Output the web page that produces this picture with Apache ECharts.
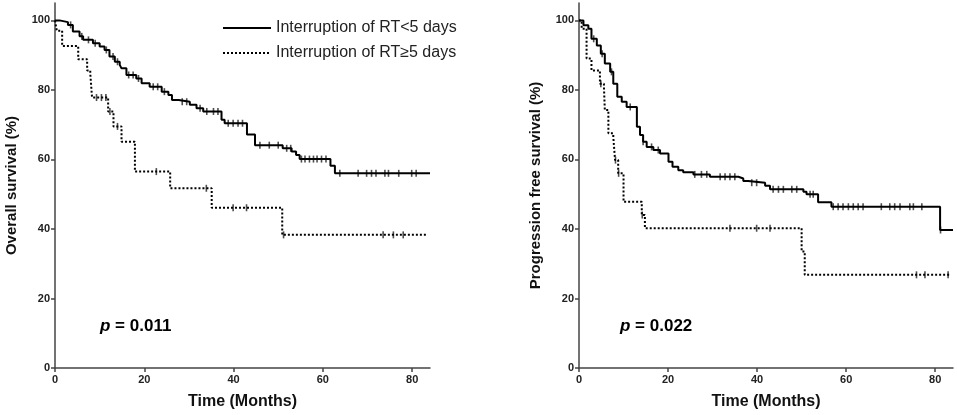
<!DOCTYPE html>
<html>
<head>
<meta charset="utf-8">
<script src="https://cdn.jsdelivr.net/npm/echarts@6/dist/echarts.min.js"></script>
<style>
  html, body { margin: 0; padding: 0; background: #fff; }
  #chart { width: 957px; height: 415px; }
</style>
</head>
<body>
<div id="chart"></div>
<script>
// 生存曲线数据 (时间: 月, 生存率: %)
var groupNames = ['Interruption of RT<5 days', 'Interruption of RT\u22655 days'];
var xTicks = [0, 20, 40, 60, 80];
var yTicks = [0, 20, 40, 60, 80, 100];

// Overall survival, interruption < 5 days
var osT1 = [0, 1, 2.9, 4.0, 5.5, 6.3, 8.5, 10, 11.1, 12.2, 13.4, 14.5, 14.9, 16, 18.2, 19.4, 21.2, 23.9, 25.4, 26.2, 27.7, 30.2, 31.7, 33.2, 37.3, 38, 43, 44.8, 51, 53, 54, 54.8, 61.7, 62.7, 84];
var osS1 = [100, 99.5, 98.7, 96.8, 95.4, 94.4, 93.4, 92.5, 91.5, 89.6, 88.1, 87.2, 86.2, 84.3, 83.3, 81.9, 80.9, 79.5, 78.5, 77.1, 76.6, 75.7, 74.7, 73.8, 71.4, 70.4, 67.2, 64.1, 63.2, 62.3, 61.3, 60.1, 58.2, 56, 56];
var osC1 = [3.5, 6, 7.5, 9, 11.5, 13, 14, 16.5, 17.5, 18.7, 22, 23, 24.5, 28.5, 29.5, 32.5, 34, 35.5, 36.5, 38.8, 39.9, 41, 42, 45.9, 48, 50, 51.9, 52.8, 55.2, 56, 57, 57.9, 58.7, 59.7, 60.7, 63.8, 67.9, 69.8, 70.9, 71.9, 73.9, 74.7, 77, 79.9, 80.9];

// Overall survival, interruption >= 5 days
var osT2 = [0, 0.4, 1.6, 5.2, 7.2, 7.9, 8.3, 11.9, 13.1, 14.9, 17.9, 25.8, 35.1, 50.9, 83.3];
var osS2 = [100, 97, 92.6, 88.8, 85.6, 84.7, 77.8, 73.8, 69.5, 65.1, 56.5, 51.7, 46.1, 38.3, 38.3];
var osC2 = [9.3, 10.4, 11.4, 12.3, 14, 22.7, 33.9, 39.9, 42.9, 51.2, 73.5, 75.8, 78];

// Progression free survival, interruption < 5 days
var pfsT1 = [0, 1, 2.1, 2.8, 4, 4.9, 5.8, 7, 7.7, 8.6, 9.6, 10.7, 13, 13.7, 14.4, 15.2, 16.7, 18.2, 20.1, 21, 22.3, 23.4, 25.7, 29.4, 35.8, 36.9, 38, 41.8, 42.9, 50.4, 51.1, 53.7, 56.7, 81.1, 84];
var pfsS1 = [100, 98.6, 97.6, 94.7, 92.8, 90.4, 87.6, 85.2, 81.8, 78, 76.6, 75.1, 69.4, 67, 65.1, 63.6, 62.7, 61.7, 59.3, 57.9, 56.9, 56.3, 55.7, 55, 54.5, 53.8, 53.3, 52.4, 51.4, 50.7, 50, 47.7, 46.4, 39.7, 39.7];
var pfsC1 = [3.3, 5.2, 7.3, 11.5, 14.4, 16.3, 17.8, 26, 27.5, 28.7, 31.7, 32.8, 33.9, 35, 38.8, 39.9, 43.6, 44.8, 45.9, 47.8, 48.9, 51.9, 52.6, 57.1, 58.2, 59.3, 60.5, 61.6, 62.7, 63.8, 67.9, 69.8, 70.9, 72.1, 74.3, 75.1, 77, 81.2];

// Progression free survival, interruption >= 5 days
var pfsT2 = [0, 0.6, 1.7, 2.8, 4.7, 5.6, 5.8, 6.6, 7.7, 8.1, 8.8, 10, 14.1, 14.8, 50, 50.7, 83.3];
var pfsS2 = [100, 97.6, 89, 85.6, 81.8, 80.9, 74.2, 67.5, 66.5, 59.8, 56, 47.8, 44, 40.2, 33.5, 26.8, 26.8];
var pfsC2 = [4.9, 8.2, 8.9, 14.2, 33.9, 39.9, 42.9, 75.8, 77.7, 82.9];

var pValues = ['0.011', '0.022'];
var yNames = ['Overall survival (%)', 'Progression free survival (%)'];
var xName = 'Time (Months)';

function pairs(t, s) {
    return t.map(function (v, i) { return [v, s[i]]; });
}
// 删失点取对应时刻的生存率
function censor(t, s, c) {
    return c.map(function (x) {
        var y = s[0];
        for (var i = 0; i < t.length; i++) { if (t[i] <= x) y = s[i]; }
        return [x, y];
    });
}

var FONT = 'Liberation Sans, Arial, sans-serif';
var axisColor = '#444';

function makeX(idx) {
    return {
        type: 'value', gridIndex: idx, min: 0, max: 84,
        name: xName, nameLocation: 'middle', nameGap: 26,
        nameTextStyle: { fontFamily: FONT, fontSize: 16, fontWeight: 'bold', color: '#111' },
        axisLine: { show: true, onZero: false, lineStyle: { color: axisColor, width: 1.5 } },
        axisTick: { show: true, length: 4, customValues: xTicks, lineStyle: { color: axisColor, width: 1.5 } },
        axisLabel: { customValues: xTicks, margin: 6, fontFamily: FONT, fontSize: 11, fontWeight: 'bold', color: '#222' },
        splitLine: { show: false }
    };
}
function makeY(idx) {
    return {
        type: 'value', gridIndex: idx, min: 0, max: 105,
        name: yNames[idx], nameLocation: 'middle', nameGap: 36,
        nameTextStyle: { fontFamily: FONT, fontSize: 15, fontWeight: 'bold', color: '#111' },
        axisLine: { show: true, lineStyle: { color: axisColor, width: 1.5 } },
        axisTick: { show: true, length: 4, customValues: yTicks, lineStyle: { color: axisColor, width: 1.5 } },
        axisLabel: { customValues: yTicks, margin: 5, fontFamily: FONT, fontSize: 11, fontWeight: 'bold', color: '#222' },
        splitLine: { show: false }
    };
}
function curve(name, idx, t, s, dotted) {
    return {
        name: name, type: 'line', xAxisIndex: idx, yAxisIndex: idx,
        step: 'end', data: pairs(t, s), symbol: 'none', silent: true,
        lineStyle: { color: '#000', width: 2, type: dotted ? [2, 2] : 'solid' },
        itemStyle: { color: '#000' }
    };
}
function marks(idx, t, s, c) {
    return {
        type: 'scatter', xAxisIndex: idx, yAxisIndex: idx, silent: true,
        data: censor(t, s, c), symbol: 'rect', symbolSize: [1.6, 7],
        itemStyle: { color: '#222' }
    };
}

var chart = echarts.init(document.getElementById('chart'));
chart.setOption({
    animation: false,
    backgroundColor: '#fff',
    title: [
        { text: '{i|p} = ' + pValues[0], left: 95, top: 313, textStyle: { rich: { i: { fontStyle: 'italic', fontWeight: 'bold', fontSize: 17, fontFamily: FONT, color: '#000' } }, fontSize: 17, fontWeight: 'bold', fontFamily: FONT, color: '#000' } },
        { text: '{i|p} = ' + pValues[1], left: 615, top: 313, textStyle: { rich: { i: { fontStyle: 'italic', fontWeight: 'bold', fontSize: 17, fontFamily: FONT, color: '#000' } }, fontSize: 17, fontWeight: 'bold', fontFamily: FONT, color: '#000' } }
    ],
    legend: {
        data: groupNames, orient: 'vertical', left: 217, top: 15,
        itemWidth: 48, itemHeight: 10, itemGap: 9,
        itemStyle: { opacity: 0 },
        textStyle: { fontFamily: FONT, fontSize: 16, color: '#222' }
    },
    grid: [
        { left: 55, right: 527, top: 3, bottom: 45 },
        { left: 579, right: 4, top: 3, bottom: 45 }
    ],
    xAxis: [makeX(0), makeX(1)],
    yAxis: [makeY(0), makeY(1)],
    series: [
        curve(groupNames[0], 0, osT1, osS1, false),
        curve(groupNames[1], 0, osT2, osS2, true),
        marks(0, osT1, osS1, osC1),
        marks(0, osT2, osS2, osC2),
        curve('pfs1', 1, pfsT1, pfsS1, false),
        curve('pfs2', 1, pfsT2, pfsS2, true),
        marks(1, pfsT1, pfsS1, pfsC1),
        marks(1, pfsT2, pfsS2, pfsC2)
    ]
});
</script>
</body>
</html>
